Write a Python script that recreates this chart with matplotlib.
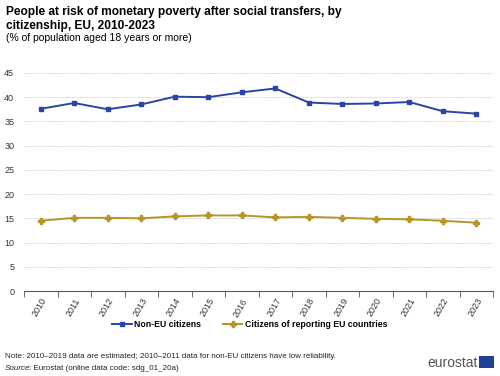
import matplotlib
matplotlib.use("Agg")
import matplotlib.pyplot as plt

plt.rcParams['font.family'] = ['Liberation Sans', 'DejaVu Sans']

years = [str(y) for y in range(2010, 2024)]
non_eu = [37.6, 38.8, 37.5, 38.5, 40.1, 40.0, 41.0, 41.8, 38.9, 38.6, 38.7, 39.0, 37.1, 36.6]
eu_citizens = [14.5, 15.1, 15.1, 15.0, 15.4, 15.6, 15.6, 15.2, 15.3, 15.1, 14.9, 14.8, 14.5, 14.1]
yticks = [0, 5, 10, 15, 20, 25, 30, 35, 40, 45]

blue = '#2A44A8'
gold = '#B4962A'

fig = plt.figure(figsize=(5, 3.76), dpi=100)
ax = fig.add_axes([0.048, 0.226, 0.938, 0.580])
x = list(range(len(years)))
ax.plot(x, non_eu, color=blue, lw=1.4, marker='s', ms=3.5, label='Non-EU citizens')
ax.plot(x, eu_citizens, color=gold, lw=1.4, marker='P', ms=4, label='Citizens of reporting EU countries')

ax.set_xlim(-0.5, len(years) - 0.5)
ax.set_ylim(0, 45)
ax.set_yticks(yticks)
ax.set_xticks(x)
ax.set_xticklabels(years, rotation=60, ha='right', rotation_mode='anchor', fontsize=6.5, color='#333333')
ax.tick_params(axis='x', length=0, pad=4)
ax.set_xticks([i - 0.5 for i in range(len(years) + 1)], minor=True)
ax.tick_params(axis='x', which='minor', length=4, color='#555555')
ax.tick_params(axis='y', length=0, labelsize=6.5, labelcolor='#333333', pad=7)
ax.grid(axis='y', color='#d8d8d8', ls=(0, (2, 1)), lw=0.7)
ax.set_axisbelow(True)
for s in ['top', 'right', 'left']:
    ax.spines[s].set_visible(False)
ax.spines['bottom'].set_color('#555555')

fig.legend(loc='center', bbox_to_anchor=(0.5, 0.136), ncol=2, frameon=False,
           prop={'size': 6.3, 'weight': 'bold'}, handlelength=2.2, columnspacing=2.5,
           handletextpad=0.3)

fig.text(0.012, 0.985, 'People at risk of monetary poverty after social transfers, by\ncitizenship, EU, 2010-2023',
         fontsize=8.6, fontweight='bold', va='top', ha='left', linespacing=1.25)
fig.text(0.012, 0.912, '(% of population aged 18 years or more)', fontsize=7.5, va='top', ha='left')
fig.text(0.01, 0.053, 'Note: 2010\u20132019 data are estimated; 2010\u20132011 data for non-EU citizens have low reliability.',
         fontsize=5.8, va='center', ha='left', color='#222222')
fig.text(0.01, 0.021, 'Source', fontsize=5.8, va='center', ha='left', style='italic', color='#222222')
fig.text(0.058, 0.021, ': Eurostat (online data code: sdg_01_20a)', fontsize=5.8, va='center', ha='left', color='#222222')
fig.text(0.955, 0.035, 'eurostat', fontsize=10, va='center', ha='right', color='#555555')
fig.patches.append(plt.Rectangle((0.958, 0.022), 0.03, 0.03, transform=fig.transFigure,
                                 facecolor='#1f3f99', edgecolor='none'))

fig.savefig('out.png', dpi=100)
